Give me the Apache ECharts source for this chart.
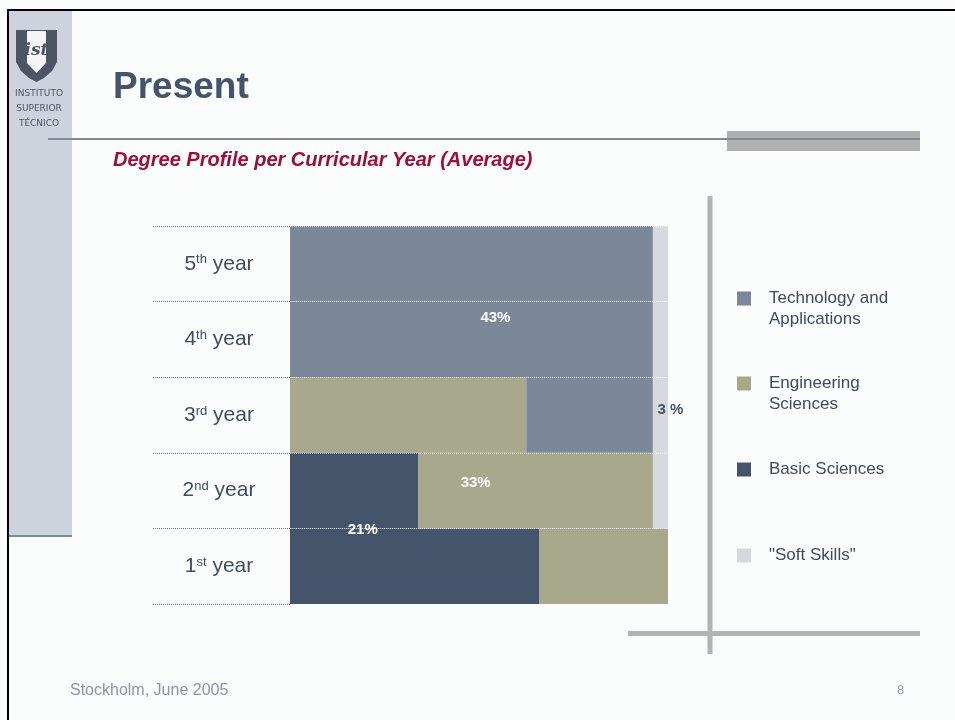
<!DOCTYPE html>
<html>
<head>
<meta charset="utf-8">
<title>Present</title>
<script src="https://cdn.jsdelivr.net/npm/echarts@6/dist/echarts.min.js"></script>
<style>
  html, body { margin: 0; padding: 0; background: #fbfcfc; }
  #chart { width: 955px; height: 720px; }
</style>
</head>
<body>
<div id="chart"></div>
<script>
  // curricular years, bottom to top
  var years = ['1st year', '2nd year', '3rd year', '4th year', '5th year'];

  // share of each area per year (%)
  var basicSciences = [66, 34, 0, 0, 0];
  var engineeringSciences = [34, 62, 62.5, 0, 0];
  var technologyApps = [0, 0, 33.5, 96, 96];
  var softSkills = [0, 4, 4, 4, 4];

  // average over the five years
  var avgBasic = '21%';
  var avgEngineering = '33%';
  var avgTechnology = '43%';
  var avgSoft = '3 %';

  var colors = {
    tech: '#7c8899',
    eng: '#a8a88c',
    basic: '#44546a',
    soft: '#d6d9dd'
  };

  var chart = echarts.init(document.getElementById('chart'));

  // puts the average label on one bar of a series
  function withLabel(values, idx, text, offset, color) {
    return values.map(function (v, i) {
      if (i !== idx) return v;
      return {
        value: v,
        label: {
          show: true,
          position: 'inside',
          offset: offset,
          formatter: text,
          color: color,
          fontFamily: 'Liberation Sans, Arial',
          fontWeight: 'bold',
          fontSize: 15
        }
      };
    });
  }

  function bar(name, data, color) {
    return {
      name: name,
      type: 'bar',
      stack: 'total',
      barWidth: '100%',
      itemStyle: { color: color },
      emphasis: { disabled: true },
      data: data
    };
  }

  var techName = 'Technology and\nApplications';
  var engName = 'Engineering\nSciences';
  var basicName = 'Basic Sciences';
  var softName = '"Soft Skills"';

  function oneLegend(name, top) {
    return {
      data: [name],
      left: 737,
      top: top,
      padding: 0,
      icon: 'rect',
      itemWidth: 14,
      itemHeight: 14,
      selectedMode: false,
      // first line of a two-line name sits level with the square
      formatter: function (n) {
        return n.indexOf('\n') >= 0 ? '\n' + n : n;
      },
      textStyle: {
        color: '#3e4b5e',
        fontFamily: 'Liberation Sans, Arial',
        fontSize: 17,
        lineHeight: 21,
        padding: [0, 0, 0, 13]
      }
    };
  }

  var option = {
    backgroundColor: '#fbfcfc',
    animation: false,
    title: [
      {
        text: 'Present',
        left: 113,
        top: 69,
        padding: 0,
        textStyle: { color: '#44546a', fontFamily: 'Liberation Sans, Arial', fontWeight: 'bold', fontSize: 37 }
      },
      {
        text: 'Degree Profile per Curricular Year (Average)',
        left: 113,
        top: 150,
        padding: 0,
        textStyle: { color: '#9b0f3c', fontFamily: 'Liberation Sans, Arial', fontWeight: 'bold', fontStyle: 'italic', fontSize: 20 }
      }
    ],
    legend: [
      oneLegend(techName, 267),
      oneLegend(engName, 352),
      oneLegend(basicName, 459),
      oneLegend(softName, 545)
    ],
    grid: { left: 290, top: 226, width: 378, height: 378, outerBoundsMode: 'none' },
    xAxis: { type: 'value', min: 0, max: 100, show: false },
    yAxis: {
      type: 'category',
      data: years,
      z: 10,
      axisLine: { show: false },
      axisTick: { show: true, length: 137, lineStyle: { color: '#6f7782', type: 'dotted', width: 1 } },
      splitLine: { show: true, lineStyle: { color: 'rgba(255,255,255,0.6)', type: 'dotted', width: 1 } },
      axisLabel: {
        margin: 71,
        align: 'center',
        formatter: function (v) {
          var m = v.match(/^(\d)(\w+) (.*)$/);
          return '{n|' + m[1] + '}{s|' + m[2] + '}{n| ' + m[3] + '}';
        },
        rich: {
          n: { color: '#3f4d61', fontFamily: 'Liberation Sans, Arial', fontSize: 21 },
          s: { color: '#3f4d61', fontFamily: 'Liberation Sans, Arial', fontSize: 13, verticalAlign: 'top' }
        }
      }
    },
    series: [
      bar(basicName, withLabel(basicSciences, 0, avgBasic, [-52, -36], '#ffffff'), colors.basic),
      bar(engName, withLabel(engineeringSciences, 1, avgEngineering, [-60, -8], '#ffffff'), colors.eng),
      bar(techName, withLabel(technologyApps, 3, avgTechnology, [24, -22], '#ffffff'), colors.tech),
      bar(softName, withLabel(softSkills, 2, avgSoft, [10, -5], '#44546a'), colors.soft)
    ],
    graphic: [
      // left band of the slide
      { type: 'rect', shape: { x: 9, y: 10, width: 63, height: 525 }, style: { fill: '#ccd3dc' }, z: -5 },
      { type: 'line', shape: { x1: 9, y1: 536, x2: 72, y2: 536 }, style: { stroke: '#7d8a9a', lineWidth: 2 } },
      // frame
      { type: 'line', shape: { x1: 8, y1: 9, x2: 8, y2: 720 }, style: { stroke: '#000', lineWidth: 2 } },
      { type: 'line', shape: { x1: 8, y1: 10, x2: 955, y2: 10 }, style: { stroke: '#000', lineWidth: 2 } },
      // logo
      {
        type: 'polygon',
        shape: { points: [[16, 30], [57, 30], [57, 62], [52, 71], [44, 78], [36.5, 82], [29, 78], [21, 71], [16, 62]] },
        style: { fill: '#4d5564' }
      },
      {
        type: 'polygon',
        shape: { points: [[27, 31], [46, 31], [46, 63], [36.5, 73], [27, 63]] },
        style: { fill: '#f4f5f6' }
      },
      { type: 'text', x: 36.5, y: 51, style: { text: 'ist', fill: '#4d5564', font: 'italic bold 17px "DejaVu Serif"', align: 'center', verticalAlign: 'middle' } },
      { type: 'text', x: 39, y: 94, style: { text: 'INSTITUTO', fill: '#4d5564', font: '9px "DejaVu Sans"', align: 'center', verticalAlign: 'middle' } },
      { type: 'text', x: 39, y: 109, style: { text: 'SUPERIOR', fill: '#4d5564', font: '9px "DejaVu Sans"', align: 'center', verticalAlign: 'middle' } },
      { type: 'text', x: 39, y: 124, style: { text: 'TÉCNICO', fill: '#4d5564', font: '9px "DejaVu Sans"', align: 'center', verticalAlign: 'middle' } },
      // title rule
      { type: 'rect', shape: { x: 727, y: 131, width: 193, height: 20 }, style: { fill: '#b0b0b0' } },
      { type: 'line', shape: { x1: 48, y1: 139, x2: 920, y2: 139 }, style: { stroke: '#7d8a9a', lineWidth: 2 } },
      // cross lines round the legend
      { type: 'line', shape: { x1: 710, y1: 196, x2: 710, y2: 654 }, style: { stroke: '#b3b3b3', lineWidth: 5 } },
      { type: 'line', shape: { x1: 628, y1: 633.5, x2: 920, y2: 633.5 }, style: { stroke: '#b3b3b3', lineWidth: 5 } },
      // footer
      { type: 'text', x: 70, y: 691, style: { text: 'Stockholm, June 2005', fill: '#8a95a5', font: '16px "Liberation Sans", Arial', verticalAlign: 'middle' } },
      { type: 'text', x: 897, y: 690, style: { text: '8', fill: '#8a95a5', font: '13px "Liberation Sans", Arial', verticalAlign: 'middle' } }
    ]
  };

  chart.setOption(option);
</script>
</body>
</html>
